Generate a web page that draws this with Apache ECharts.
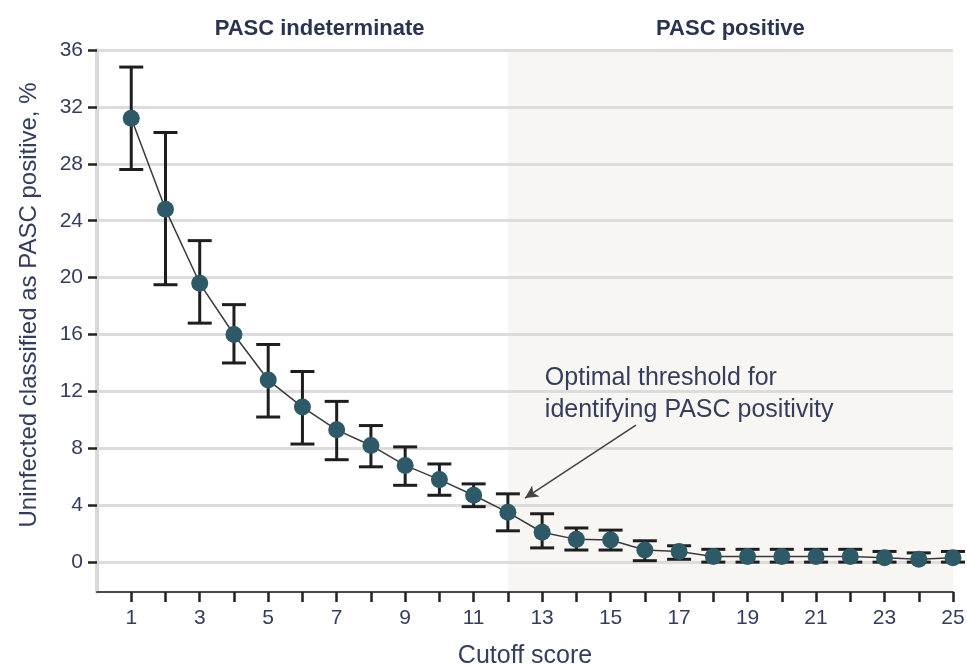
<!DOCTYPE html>
<html>
<head>
<meta charset="utf-8">
<script src="https://cdn.jsdelivr.net/npm/echarts@6/dist/echarts.min.js"></script>
<style>
html,body{margin:0;padding:0;background:#fff;}
#chart{width:967px;height:668px;}
</style>
</head>
<body>
<div id="chart"></div>
<script>
// cutoff scores and % of uninfected classified PASC positive (with 95% CI)
var scores = [1,2,3,4,5,6,7,8,9,10,11,12,13,14,15,16,17,18,19,20,21,22,23,24,25];
var pct   = [31.2,24.8,19.6,16.0,12.8,10.9,9.3,8.2,6.8,5.8,4.7,3.5,2.1,1.6,1.55,0.85,0.75,0.4,0.4,0.4,0.4,0.4,0.3,0.2,0.3];
var lower = [27.6,19.5,16.8,14.0,10.2,8.3,7.2,6.7,5.4,4.7,3.9,2.2,1.0,0.85,0.85,0.1,0.2,0,0,0,0,0,0,0,0];
var upper = [34.8,30.2,22.6,18.1,15.3,13.4,11.3,9.6,8.1,6.9,5.5,4.8,3.4,2.4,2.25,1.5,1.15,0.9,0.9,0.9,0.9,0.9,0.75,0.65,0.75];
var yTicks = [0,4,8,12,16,20,24,28,32,36];
var xLabels = [1,3,5,7,9,11,13,15,17,19,21,23,25];
var threshold = 12;

var txt = '#343d5c';
var font = 'Liberation Sans';

var myChart = echarts.init(document.getElementById('chart'));

var errData = scores.map(function(s,i){ return [s, lower[i], upper[i]]; });
var ptData = scores.map(function(s,i){ return [s, pct[i]]; });

var option = {
    animation: false,
    grid: { left: 97, right: 14, top: 50, bottom: 76, outerBoundsMode: 'none' },
    xAxis: {
        type: 'value', min: 0, max: 25,
        name: 'Cutoff score', nameLocation: 'middle', nameGap: 52,
        nameTextStyle: { color: txt, fontSize: 25, fontFamily: font },
        axisLine: { onZero: false, lineStyle: { color: '#4a4a4a', width: 2 } },
        axisTick: { customValues: scores, length: 10, lineStyle: { color: '#222', width: 2.5 } },
        axisLabel: { customValues: xLabels, margin: 16, color: txt, fontSize: 21, fontFamily: font },
        splitLine: { show: false }
    },
    yAxis: {
        type: 'value', min: -2.1, max: 36,
        name: 'Uninfected classified as PASC positive, %', nameLocation: 'middle', nameGap: 56,
        nameTextStyle: { color: txt, fontSize: 24, fontFamily: font, padding: [0,0,0,32] },
        axisLine: { show: true, lineStyle: { color: '#d9d9d9', width: 4 } },
        axisTick: { show: true, customValues: yTicks, length: 9, lineStyle: { color: '#222', width: 2.5 } },
        axisLabel: { customValues: yTicks, margin: 14, color: txt, fontSize: 21, fontFamily: font },
        splitLine: { show: true, lineStyle: { color: '#dcdcdc', width: 3 } }
    },
    series: [
        {
            // background regions + region titles
            type: 'line', data: [], z: -1,
            markArea: {
                silent: true, z: -1,
                label: { position: 'top', distance: 10, color: '#2a3350', fontSize: 22, fontWeight: 'bold', fontFamily: font },
                data: [
                    [{ xAxis: 1, name: 'PASC indeterminate', itemStyle: { color: 'rgba(0,0,0,0)' } }, { xAxis: threshold }],
                    [{ xAxis: threshold, name: 'PASC positive', itemStyle: { color: '#f7f6f2' } }, { xAxis: 25 }]
                ]
            }
        },
        {
            type: 'custom', z: 3,
            renderItem: function(params, api){
                var x = api.value(0);
                var lo = api.coord([x, api.value(1)]);
                var hi = api.coord([x, api.value(2)]);
                var w = 12;
                var st = { stroke: '#1e1e1e', lineWidth: 3 };
                return { type: 'group', children: [
                    { type: 'line', shape: { x1: lo[0], y1: lo[1], x2: hi[0], y2: hi[1] }, style: st },
                    { type: 'line', shape: { x1: lo[0]-w, y1: lo[1], x2: lo[0]+w, y2: lo[1] }, style: st },
                    { type: 'line', shape: { x1: hi[0]-w, y1: hi[1], x2: hi[0]+w, y2: hi[1] }, style: st }
                ]};
            },
            data: errData
        },
        {
            type: 'line', z: 4, data: ptData,
            symbol: 'circle', symbolSize: 17,
            lineStyle: { color: '#3a3a3a', width: 1.5 },
            itemStyle: { color: '#2d5a66' },
            markLine: {
                silent: true, symbol: ['none','arrow'], symbolSize: [10,13],
                label: { show: false },
                lineStyle: { color: '#444', width: 1.6, type: 'solid' },
                data: [[{ coord: [15.74, 9.63] }, { coord: [12.5, 4.5] }]]
            },
            markPoint: {
                silent: true, symbol: 'circle', symbolSize: 0,
                label: {
                    show: true, position: 'right', distance: 0,
                    formatter: 'Optimal threshold for\nidentifying PASC positivity',
                    color: txt, fontSize: 25, lineHeight: 32, fontFamily: font
                },
                data: [{ coord: [13.08, 11.8] }]
            }
        }
    ]
};
myChart.setOption(option);
</script>
</body>
</html>
